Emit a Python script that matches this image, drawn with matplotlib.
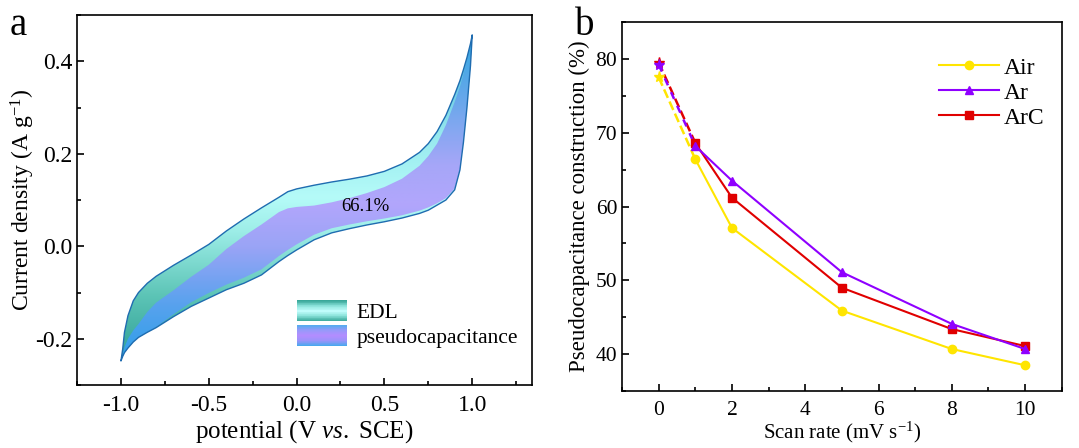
import numpy as np
import matplotlib
matplotlib.use("Agg")
import matplotlib.pyplot as plt
from matplotlib.colors import LinearSegmentedColormap
from matplotlib.patches import Polygon, Rectangle, Patch
from matplotlib.legend_handler import HandlerBase
from matplotlib.ticker import MultipleLocator

plt.rcParams['font.family'] = ['Liberation Serif', 'DejaVu Serif']
plt.rcParams['mathtext.fontset'] = 'custom'
plt.rcParams['mathtext.rm'] = 'Liberation Serif'
plt.rcParams['mathtext.it'] = 'Liberation Serif:italic'

# ---------------- datos panel a (CV) ----------------
potential = [-1.0, -0.99, -0.98, -0.96, -0.93, -0.9, -0.85, -0.8, -0.7, -0.6, -0.5, -0.4, -0.3, -0.2,
             -0.1, -0.05, 0.0, 0.1, 0.2, 0.3, 0.4, 0.5, 0.6, 0.7, 0.75, 0.8, 0.85, 0.9, 0.93, 0.95,
             0.97, 0.99, 1.0]
total_up = [-0.248, -0.222, -0.186, -0.15, -0.118, -0.1, -0.08, -0.065, -0.041, -0.019, 0.004, 0.033,
            0.059, 0.083, 0.106, 0.118, 0.124, 0.132, 0.139, 0.145, 0.152, 0.162, 0.178, 0.203, 0.222,
            0.248, 0.283, 0.328, 0.358, 0.382, 0.408, 0.438, 0.457]
total_down = [-0.248, -0.238, -0.23, -0.22, -0.207, -0.197, -0.186, -0.176, -0.152, -0.13, -0.112, -0.094,
              -0.08, -0.062, -0.033, -0.02, -0.008, 0.014, 0.029, 0.038, 0.046, 0.053, 0.061, 0.071, 0.078,
              0.089, 0.1, 0.122, 0.165, 0.225, 0.3, 0.39, 0.457]
pseudo_up = [-0.248, -0.232, -0.218, -0.2, -0.182, -0.168, -0.142, -0.122, -0.095, -0.066, -0.04, -0.006,
             0.022, 0.047, 0.074, 0.082, 0.085, 0.088, 0.095, 0.104, 0.115, 0.128, 0.146, 0.174, 0.195,
             0.222, 0.262, 0.312, 0.345, 0.372, 0.402, 0.436, 0.457]
pseudo_down = [-0.248, -0.238, -0.23, -0.22, -0.207, -0.197, -0.186, -0.175, -0.147, -0.121, -0.101, -0.083,
               -0.068, -0.05, -0.021, -0.008, 0.004, 0.025, 0.039, 0.047, 0.054, 0.06, 0.067, 0.077, 0.084,
               0.093, 0.104, 0.125, 0.167, 0.226, 0.3, 0.39, 0.457]
pseudo_pct = "66.1%"

# ---------------- datos panel b ----------------
scan_rate = [1, 2, 5, 8, 10]
air = [66.4, 57.1, 45.9, 40.7, 38.5]
ar = [68.2, 63.5, 51.1, 44.1, 40.7]
arc = [68.6, 61.2, 49.0, 43.4, 41.1]
extrap_x = 0
air_0 = 77.5
ar_0 = 79.2
arc_0 = 79.5

fig = plt.figure(figsize=(10.79, 4.48), dpi=100)
ax1 = fig.add_axes([0.0714, 0.1406, 0.4216, 0.8259])
ax2 = fig.add_axes([0.5765, 0.127, 0.4075, 0.824])

# ---------------- panel a ----------------
E = np.array(potential)
outer_pts = np.column_stack([np.concatenate([E, E[::-1]]),
                             np.concatenate([total_up, total_down[::-1]])])
inner_pts = np.column_stack([np.concatenate([E, E[::-1]]),
                             np.concatenate([pseudo_up, pseudo_down[::-1]])])

cmap_edl = LinearSegmentedColormap.from_list('edl', [
    (0.0, '#2e9e94'), (0.2, '#5cc4b6'), (0.4, '#9eeee8'), (0.5, '#b5fbf8'),
    (0.7, '#95e8ee'), (1.0, '#3aa8dc')])
cmap_pse = LinearSegmentedColormap.from_list('pse', [
    (0.0, '#2b9ee8'), (0.18, '#5aa2ee'), (0.35, '#9aa4f6'), (0.48, '#b2a6fc'),
    (0.6, '#a6a6f8'), (0.78, '#6ea8ec'), (1.0, '#2ea6e0')])

grad = np.linspace(0, 1, 256).reshape(-1, 1)
ext = [-1.05, 1.05, -0.25, 0.46]

p_out = Polygon(outer_pts, closed=True, facecolor='none', edgecolor='none')
ax1.add_patch(p_out)
im1 = ax1.imshow(grad, extent=ext, origin='lower', cmap=cmap_edl, aspect='auto', zorder=1)
im1.set_clip_path(p_out)

p_in = Polygon(inner_pts, closed=True, facecolor='none', edgecolor='none')
ax1.add_patch(p_in)
im2 = ax1.imshow(grad, extent=ext, origin='lower', cmap=cmap_pse, aspect='auto', zorder=2)
im2.set_clip_path(p_in)

ax1.add_patch(Polygon(outer_pts, closed=True, facecolor='none', edgecolor='#1f6cb0', lw=1.0,
                      joinstyle='round', zorder=3))

ax1.text(0.39, 0.086, pseudo_pct, fontsize=13.5, ha='center', va='center', zorder=4)

ax1.set_xlim(-1.25, 1.34)
ax1.set_ylim(-0.3, 0.5)
ax1.xaxis.set_minor_locator(MultipleLocator(0.25))
ax1.yaxis.set_minor_locator(MultipleLocator(0.1))
ax1.set_xticks([-1.0, -0.5, 0.0, 0.5, 1.0])
ax1.set_xticklabels(['-1.0', '-0.5', '0.0', '0.5', '1.0'])
ax1.set_yticks([-0.2, 0.0, 0.2, 0.4])
ax1.set_yticklabels(['-0.2', '0.0', '0.2', '0.4'])
ax1.tick_params(which='both', direction='in', top=False, right=False, labelsize=17, width=1.2)
ax1.tick_params(which='major', length=5)
ax1.tick_params(which='minor', length=3)
ax1.tick_params(axis='x', which='major', pad=7)
ax1.set_xlabel('potential (V $\\it{vs.}$ SCE)', fontsize=18, labelpad=2)
ax1.set_ylabel('Current density (A g$^{-1}$)', fontsize=17)
ax1.yaxis.set_label_coords(-0.088, 0.5)
for s in ax1.spines.values():
    s.set_linewidth(1.2)


class GradientHandler(HandlerBase):
    def __init__(self, cmap):
        super().__init__()
        self.cmap = cmap

    def create_artists(self, legend, orig_handle, xdescent, ydescent, width, height, fontsize, trans):
        n = 30
        arts = []
        for i in range(n):
            arts.append(Rectangle((-xdescent, -ydescent + height * i / n), width, height / n * 1.1,
                                  facecolor=self.cmap(i / (n - 1)), edgecolor='none', transform=trans))
        return arts


leg_edl = LinearSegmentedColormap.from_list('leg_edl', ['#3aa89a', '#8ae2da', '#c4fefd', '#8ae2da', '#3aa89a'])
leg_pse = LinearSegmentedColormap.from_list('leg_pse', ['#4aa8ee', '#9a94fa', '#b48cff', '#9a98fa', '#5aaaf0'])
h_edl = Patch(label='EDL')
h_pse = Patch(label='pseudocapacitance')
ax1.legend(handles=[h_edl, h_pse], loc='lower left', bbox_to_anchor=(0.484, 0.1),
           frameon=False, fontsize=15.5, handlelength=2.3, handleheight=1.1,
           handletextpad=0.45, labelspacing=0.1, borderpad=0, borderaxespad=0,
           handler_map={h_edl: GradientHandler(leg_edl), h_pse: GradientHandler(leg_pse)})

# ---------------- panel b ----------------
c_air = '#ffe500'
c_ar = '#8f00ff'
c_arc = '#e00000'

ax2.plot([extrap_x, scan_rate[0]], [air_0, air[0]], '--', color=c_air, lw=1.8, zorder=2)
ax2.plot([extrap_x, scan_rate[0]], [arc_0, arc[0]], '--', color=c_arc, lw=1.8, zorder=2)
ax2.plot([extrap_x, scan_rate[0]], [ar_0, ar[0]], '--', color=c_ar, lw=1.8, dashes=(3, 3), zorder=2)
ax2.plot([extrap_x], [air_0], '*', color=c_air, ms=8, zorder=3)
ax2.plot([extrap_x], [arc_0], '*', color=c_arc, ms=8, zorder=3)
ax2.plot([extrap_x], [ar_0], '*', color=c_ar, ms=8, zorder=3)

ax2.plot(scan_rate, air, '-o', color=c_air, lw=1.5, ms=6, label='Air', zorder=3)
ax2.plot(scan_rate, ar, '-^', color=c_ar, lw=1.5, ms=6, label='Ar', zorder=4)
ax2.plot(scan_rate, arc, '-s', color=c_arc, lw=1.5, ms=5.5, label='ArC', zorder=3)

ax2.set_xlim(-1, 11)
ax2.set_ylim(35, 85)
ax2.xaxis.set_minor_locator(MultipleLocator(1))
ax2.yaxis.set_minor_locator(MultipleLocator(5))
ax2.set_xticks([0, 2, 4, 6, 8, 10])
ax2.set_yticks([40, 50, 60, 70, 80])
ax2.tick_params(which='both', direction='in', top=False, right=False, labelsize=15.5, width=1.2)
ax2.tick_params(which='major', length=5)
ax2.tick_params(which='minor', length=3)
ax2.tick_params(axis='x', which='major', pad=7)
ax2.set_xlabel('Scan rate (mV s$^{-1}$)', fontsize=15, labelpad=0)
ax2.set_ylabel('Pseudocapacitance construction (%)', fontsize=16.5)
ax2.yaxis.set_label_coords(-0.073, 0.5)
for s in ax2.spines.values():
    s.set_linewidth(1.2)
ax2.legend(loc='upper left', bbox_to_anchor=(0.72, 0.905), frameon=False, fontsize=17,
           handlelength=2.55, handletextpad=0.2, labelspacing=0.15, borderpad=0, borderaxespad=0)

fig.text(0.009, 0.985, 'a', fontsize=28, va='top', ha='left')
fig.text(0.533, 0.985, 'b', fontsize=28, va='top', ha='left')

fig.savefig('out.png', dpi=100)
